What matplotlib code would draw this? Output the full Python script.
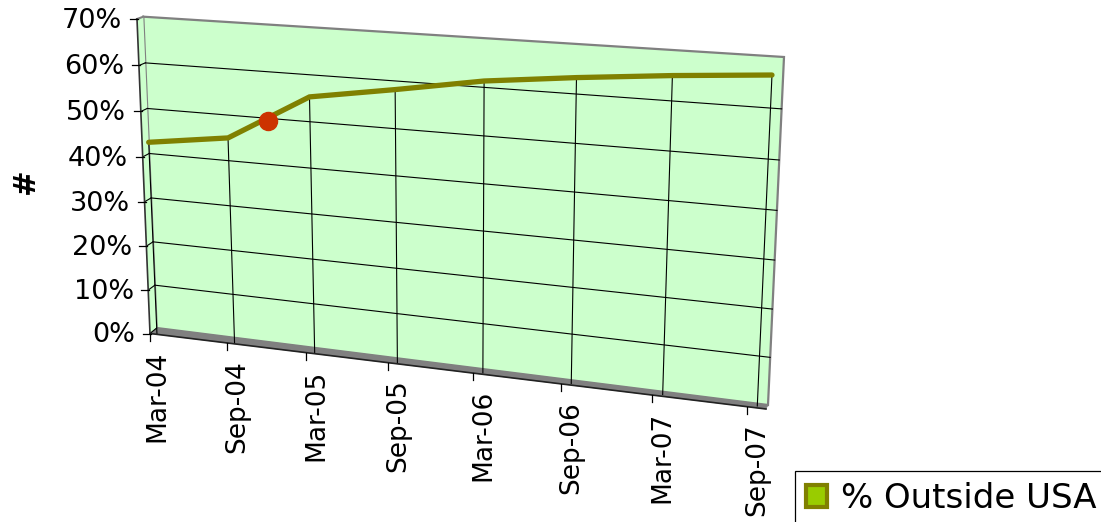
import numpy as np
import matplotlib
matplotlib.use("Agg")
import matplotlib.pyplot as plt
from matplotlib.patches import Polygon, Patch
from matplotlib.transforms import Transform

categories = ["Mar-04", "Sep-04", "Mar-05", "Sep-05", "Mar-06", "Sep-06", "Mar-07", "Sep-07"]
outside_usa = [42.5, 45.0, 55.3, 58.2, 61.3, 63.3, 65.0, 66.4]
marker_position = [1.5]
marker_value = [49.4]
y_ticks = [0, 10, 20, 30, 40, 50, 60, 70]
series_name = "% Outside USA"
axis_title = "#"

WALL_END = 7.11
FRONT_END = 7.2
Y_MAX = 70


class Perspective(Transform):
    input_dims = output_dims = 2

    def __init__(self, src, dst):
        super().__init__()
        A, b = [], []
        for (x, y), (X, Y) in zip(src, dst):
            A.append([x, y, 1, 0, 0, 0, -x * X, -y * X])
            A.append([0, 0, 0, x, y, 1, -x * Y, -y * Y])
            b += [X, Y]
        self.m = np.append(np.linalg.solve(np.array(A, float), np.array(b, float)), 1).reshape(3, 3)

    def transform_non_affine(self, values):
        v = np.asarray(values, float)
        p = np.c_[v, np.ones(len(v))] @ self.m.T
        return p[:, :2] / p[:, 2:]


fig = plt.figure(figsize=(11.01, 5.22), dpi=100)
ax = fig.add_axes([0, 0, 1, 1])
ax.set_xlim(0, 1101)
ax.set_ylim(522, 0)
ax.axis("off")

wall = Perspective([(0, 0), (WALL_END, 0), (WALL_END, Y_MAX), (0, Y_MAX)],
                   [(156.7, 328), (768, 405), (784, 57), (143.3, 16.7)])
front = Perspective([(0, 0), (FRONT_END, 0), (FRONT_END, Y_MAX), (0, Y_MAX)],
                    [(150, 333.5), (766, 409), (780, 54), (137, 19)])
wall_t = wall + ax.transData
front_t = front + ax.transData

GREEN = "#CCFFCC"
GREY = "#808080"
OLIVE = "#808000"

# back wall, side wall and floor
ax.add_patch(Polygon([(0, 0), (WALL_END, 0), (WALL_END, Y_MAX), (0, Y_MAX)], closed=True,
                     transform=wall_t, fc=GREEN, ec=GREY, lw=1.6, zorder=1))
side = np.vstack([front.transform([(0, 0), (0, Y_MAX)]), wall.transform([(0, Y_MAX), (0, 0)])])
ax.add_patch(Polygon(side, closed=True, fc=GREEN, ec="none", zorder=1))
floor = np.vstack([front.transform([(0, 0), (FRONT_END, 0)]), wall.transform([(WALL_END, 0), (0, 0)])])
ax.add_patch(Polygon(floor, closed=True, fc=GREY, ec=GREY, lw=0.5, zorder=2))
top = np.vstack([front.transform([(0, Y_MAX)]), wall.transform([(0, Y_MAX)])])
ax.plot(top[:, 0], top[:, 1], color=GREY, lw=1.5, zorder=2)

# horizontal grid + side wall connectors
for v in y_ticks[1:-1]:
    ax.plot([0, WALL_END], [v, v], transform=wall_t, color="black", lw=0.8, zorder=3)
for v in y_ticks[:-1]:
    seg = np.vstack([front.transform([(0, v)]), wall.transform([(0, v)])])
    ax.plot(seg[:, 0], seg[:, 1], color="black", lw=0.8, zorder=3)

# vertical drop lines
for i, val in enumerate(outside_usa):
    ax.plot([i, i], [val, -1.3 + 0.8 * i / 7], transform=wall_t, color="black", lw=0.8, zorder=3)

# axis lines
ax.plot([0, 0], [0, Y_MAX], transform=front_t, color="#333333", lw=1.2, zorder=4)
ax.plot([0, FRONT_END], [0, 0], transform=front_t, color="#222222", lw=1.2, zorder=4)

# y ticks and labels
for v in y_ticks:
    x0, y0 = front.transform([(0, v)])[0]
    ax.plot([x0 - 7, x0 + 1], [y0, y0], color="black", lw=0.9, zorder=4)
    ax.annotate(f"{v}%", xy=(0, v), xycoords=front_t, xytext=(-14.5 * 0.72, -2 * 0.72),
                textcoords="offset points", ha="right", va="center", fontsize=19.5, color="black")

# x ticks and labels
for i, name in enumerate(categories):
    x0, y0 = front.transform([(i, 0)])[0]
    ax.plot([x0, x0], [y0, y0 + 7], color="black", lw=0.9, zorder=4)
    ax.annotate(name, xy=(i, 0), xycoords=front_t,
                xytext=((14 if i == 0 else 17.5) * 0.72, -17 * 0.72),
                textcoords="offset points", rotation=90, rotation_mode="anchor",
                ha="right", va="baseline", fontsize=19, color="black")

# series
ax.plot(range(len(outside_usa)), outside_usa, transform=wall_t, color=OLIVE, lw=3.8,
        solid_capstyle="round", solid_joinstyle="miter", zorder=5)
ax.plot(marker_position, marker_value, transform=wall_t, ls="none", marker="o", ms=13,
        mfc="#CC3300", mec="#CC3300", zorder=6)

ax.text(25, 181, axis_title, rotation=90, ha="center", va="center",
        fontsize=22, fontweight="bold", color="black")

handle = Patch(fc="#99CC00", ec=OLIVE, lw=3, label=series_name)
px = 1 / 100 * 72
leg = ax.legend(handles=[handle], loc="upper left", bbox_to_anchor=(795, 471),
                bbox_transform=ax.transData, fontsize=24.5, frameon=True, fancybox=False,
                edgecolor="black", framealpha=1, borderaxespad=0, borderpad=0.33,
                handlelength=0.6, handleheight=0.6, handletextpad=0.42)
leg.get_frame().set_linewidth(0.9)

fig.savefig("out.png", dpi=100)
